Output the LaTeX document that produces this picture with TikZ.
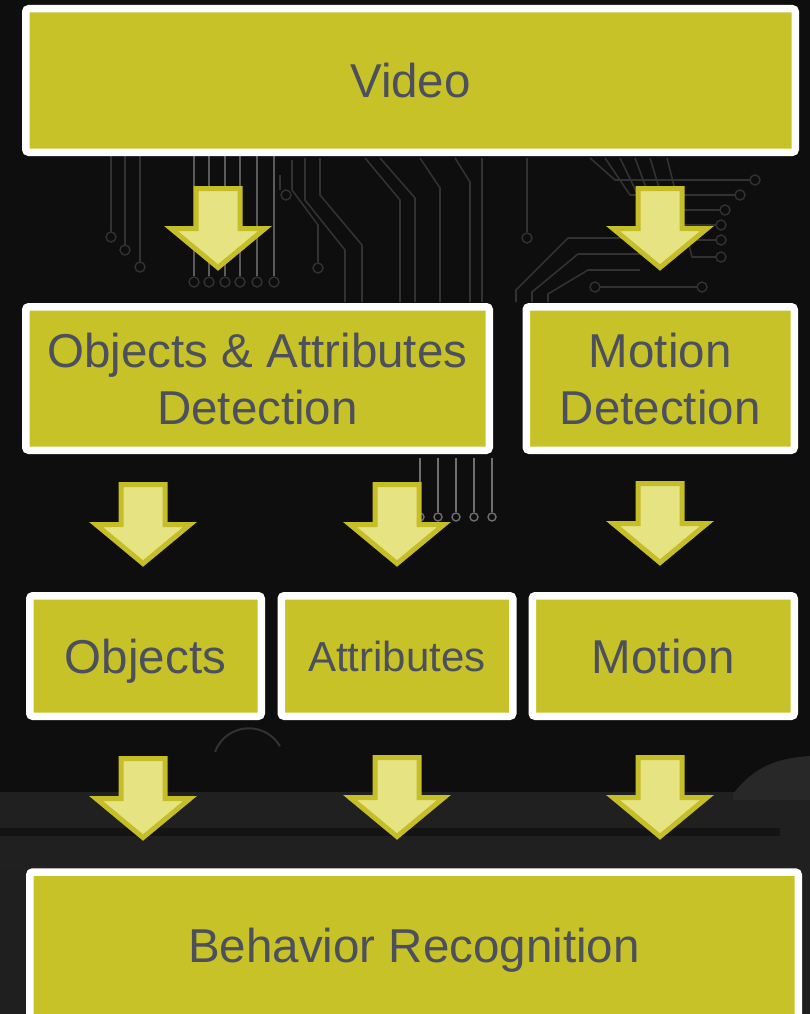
\documentclass[tikz,border=0pt]{standalone}
\usepackage{fontspec}
\setmainfont{Liberation Sans}
\definecolor{bgdark}{RGB}{14,14,14}
\definecolor{bgband}{RGB}{32,32,32}
\definecolor{bghump}{RGB}{40,40,40}
\definecolor{tracecol}{RGB}{50,50,50}
\definecolor{boxfill}{RGB}{200,194,41}
\definecolor{boxtext}{RGB}{75,80,92}
\definecolor{arrowfill}{RGB}{230,227,130}
\definecolor{arrowline}{RGB}{198,190,40}
\tikzset{
  box/.style={draw=white, line width=7.5pt, fill=boxfill, rounded corners=3pt,
    inner sep=0pt, align=center, text=boxtext, text depth=0pt,
    font=\fontsize{47.5}{57}\selectfont},
  trace/.style={draw=tracecol, line width=1.6pt},
  pad/.style={draw=tracecol, line width=1.4pt},
  blockarrow/.style={draw=arrowline, fill=arrowfill, line width=5pt, line join=miter},
  downarrow/.pic={
    \path[blockarrow] (-22,2.5) -- (22,2.5) -- (22,42.5) -- (47,42.5) -- (0,81.5)
      -- (-47,42.5) -- (-22,42.5) -- cycle;
  }
}
\begin{document}
\begin{tikzpicture}[x=1pt, y=-1pt]
\useasboundingbox (0,0) rectangle (810,1014);

% ---- background ----
\fill[bgdark] (0,0) rectangle (810,1014);
\fill[bgband] (0,792) rectangle (810,870);
\fill[black!92] (0,828) rectangle (780,836);
\fill[bghump] (733,794) .. controls (755,765) and (780,758) .. (810,756) -- (810,800) -- (733,800) -- cycle;
\fill[black!88] (0,870) rectangle (810,1014);
\draw[tracecol, line width=2pt] (215,752) arc[start angle=200, end angle=330, radius=36];

% circuit traces, left group
\foreach \x/\y in {111/232, 125/245, 140/262}{
  \draw[trace] (\x,150) -- (\x,\y);
  \draw[pad] (\x,\y+5) circle[radius=5];
}
\foreach \x in {194,209,225,240,257,274}{
  \draw[trace, tracecol!80] (\x,150) -- (\x,276);
  \draw[pad] (\x,282) circle[radius=5];
}
\draw[trace] (292,160) -- (292,190) -- (318,225) -- (318,262);
\draw[pad] (318,268) circle[radius=5];
\draw[trace] (280,175) -- (280,190);
\draw[pad] (286,195) circle[radius=5];
\draw[trace] (305,158) -- (305,200) -- (345,250) -- (345,302);
\draw[trace] (320,158) -- (320,195) -- (362,245) -- (362,302);
\draw[trace] (365,158) -- (400,200) -- (400,302);
\draw[trace] (380,158) -- (415,198) -- (415,302);
\draw[trace] (420,158) -- (440,188) -- (440,302);
\draw[trace] (455,158) -- (470,182) -- (470,302);
\draw[trace] (482,158) -- (482,302);

% circuit traces, right group
\draw[trace] (527,158) -- (527,232);
\draw[pad] (527,238) circle[radius=5];
\foreach \y/\e in {180/750, 195/735, 210/720, 225/716, 240/716, 257/716}{
  \draw[trace] (\y+410,158) -- (\y+435,\y) -- (\e,\y);
  \draw[pad] (\e+5,\y) circle[radius=5];
}
\draw[trace] (600,287) -- (697,287);
\draw[pad] (595,287) circle[radius=5];
\draw[pad] (702,287) circle[radius=5];
\draw[trace] (516,302) -- (516,290) -- (568,238) -- (640,238);
\draw[trace] (532,302) -- (532,292) -- (578,254) -- (640,254);
\draw[trace] (548,302) -- (548,294) -- (588,270) -- (640,270);
\foreach \x in {420,438,456,474,492}{
  \draw[trace, tracecol!70] (\x,458) -- (\x,512);
  \draw[pad, tracecol!70] (\x,517) circle[radius=4];
}

% ---- boxes ----
\node[box, minimum width=769.5pt, minimum height=143.5pt] (video) at (410.5,80.5) {Video};
\node[box, minimum width=463.5pt, minimum height=143.5pt] (oad) at (257.5,378.5)
  {Objects \& Attributes\\Detection};
\node[box, minimum width=268pt, minimum height=143.5pt] (md) at (660.25,378.5)
  {Motion\\Detection};
\node[box, minimum width=231.5pt, minimum height=120.5pt] (obj) at (145.5,656) {Objects};
\node[box, minimum width=231.5pt, minimum height=120.5pt,
  font=\fontsize{42}{50}\selectfont] (attr) at (397,656) {Attributes};
\node[box, minimum width=262pt, minimum height=120.5pt] (mot) at (663.25,656) {Motion};
\node[box, minimum width=768.5pt, minimum height=147pt] (beh) at (414,945.5)
  {Behavior Recognition};

% ---- flow arrows ----
\pic (v2oad) at (218,186) {downarrow};
\pic (v2md)  at (660,186) {downarrow};
\pic (oad2obj)  at (143,482) {downarrow};
\pic (oad2attr) at (397,482) {downarrow};
\pic (md2mot)   at (660,481) {downarrow};
\pic (obj2beh)  at (143,756) {downarrow};
\pic (attr2beh) at (397,755) {downarrow};
\pic (mot2beh)  at (660,755) {downarrow};
\end{tikzpicture}
\end{document}
